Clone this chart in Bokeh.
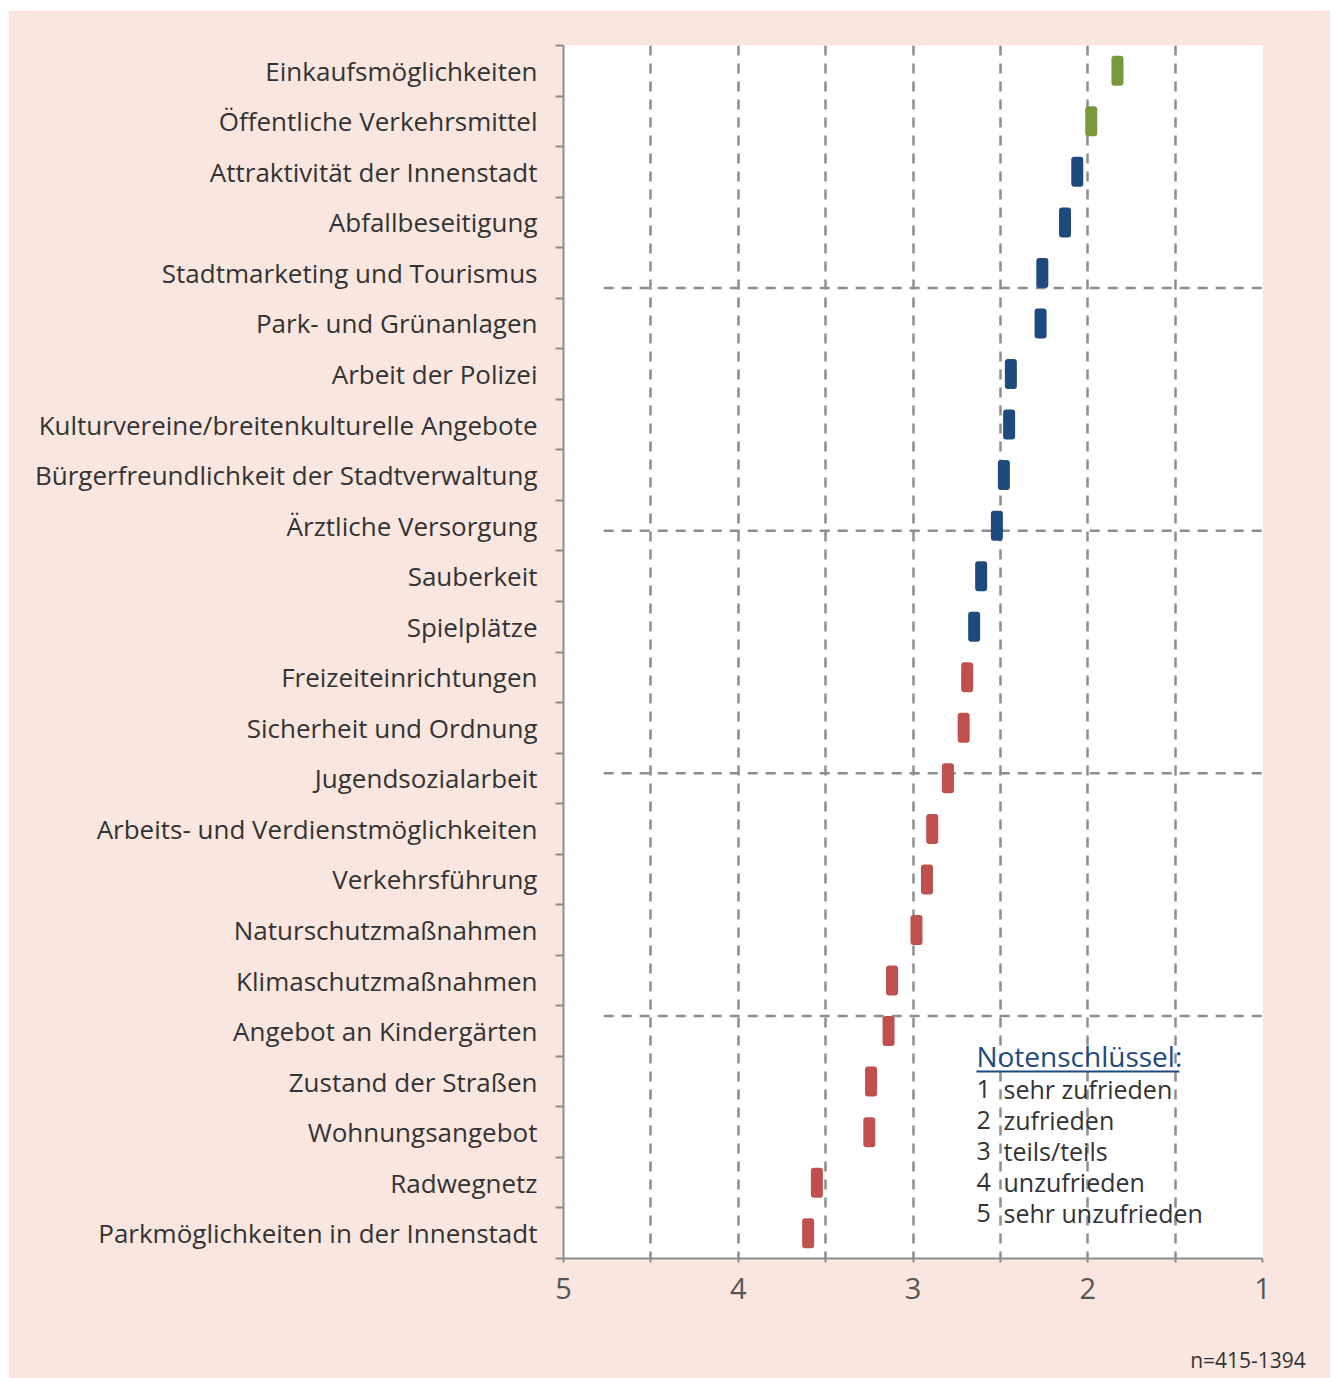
from bokeh.plotting import figure
from bokeh.models import Range1d, FixedTicker, LinearAxis
from bokeh.core.properties import value
from bokeh.embed import file_html
from bokeh.resources import INLINE

categories = [
    "Einkaufsmöglichkeiten", "Öffentliche Verkehrsmittel", "Attraktivität der Innenstadt",
    "Abfallbeseitigung", "Stadtmarketing und Tourismus", "Park- und Grünanlagen",
    "Arbeit der Polizei", "Kulturvereine/breitenkulturelle Angebote",
    "Bürgerfreundlichkeit der Stadtverwaltung", "Ärztliche Versorgung", "Sauberkeit",
    "Spielplätze", "Freizeiteinrichtungen", "Sicherheit und Ordnung", "Jugendsozialarbeit",
    "Arbeits- und Verdienstmöglichkeiten", "Verkehrsführung", "Naturschutzmaßnahmen",
    "Klimaschutzmaßnahmen", "Angebot an Kindergärten", "Zustand der Straßen",
    "Wohnungsangebot", "Radwegnetz", "Parkmöglichkeiten in der Innenstadt",
]
scores = [1.83, 1.98, 2.06, 2.13, 2.26, 2.27, 2.44, 2.45, 2.48, 2.52, 2.61, 2.65,
          2.69, 2.71, 2.80, 2.89, 2.92, 2.98, 3.12, 3.14, 3.24, 3.25, 3.55, 3.60]
groups = ["gut"] * 2 + ["mittel"] * 10 + ["schlecht"] * 12
group_colors = {"gut": "#78993B", "mittel": "#1F4A7E", "schlecht": "#C0504D"}
x_ticks = [5, 4, 3, 2, 1]
key_title = "Notenschlüssel"
key_numbers = ["1", "2", "3", "4", "5"]
key_texts = ["sehr zufrieden", "zufrieden", "teils/teils", "unzufrieden", "sehr unzufrieden"]
note = "n=415-1394"

PINK = "#F9E7DF"
GRID = "#8E8E8E"
FONT = "Open Sans"

n = len(categories)
rows = list(range(n))

p = figure(width=1322, height=1368, output_backend="svg", toolbar_location=None,
           x_range=Range1d(5, 1), y_range=Range1d(n - 0.5, -0.5),
           min_border_left=555, min_border_right=68, min_border_top=35, min_border_bottom=120)
p.margin = (10, 0, 0, 8)
p.background_fill_color = "white"
p.border_fill_color = PINK
p.outline_line_color = None

# x axis
xa = p.xaxis[0]
xa.ticker = FixedTicker(ticks=x_ticks, minor_ticks=[4.5, 3.5, 2.5, 1.5])
xa.axis_line_color = "#8C8C8C"
xa.axis_line_width = 2
xa.major_tick_line_color = "#8C8C8C"
xa.minor_tick_line_color = "#8C8C8C"
xa.major_tick_line_width = 2
xa.minor_tick_line_width = 2
xa.major_tick_in = 0
xa.major_tick_out = 4
xa.minor_tick_in = 0
xa.minor_tick_out = 4
xa.major_label_text_font = FONT
xa.major_label_text_font_size = "29px"
xa.major_label_text_color = "#555555"
xa.major_label_standoff = 15

# sample-size note: a bare second axis below, one labelled position near the right end
NOTE_AT = 1.083
note_axis = LinearAxis(ticker=FixedTicker(ticks=[NOTE_AT], minor_ticks=[]),
                       major_label_overrides={NOTE_AT: note, str(NOTE_AT): note},
                       axis_line_color=None, major_tick_line_color=None,
                       minor_tick_line_color=None, major_tick_in=0, major_tick_out=0,
                       minor_tick_in=0, minor_tick_out=0, major_label_standoff=44,
                       major_label_text_font=FONT, major_label_text_font_size="21px",
                       major_label_text_color="#333333")
p.add_layout(note_axis, "below")

# y axis
ya = p.yaxis[0]
ya.ticker = FixedTicker(ticks=rows, minor_ticks=[r - 0.5 for r in range(n + 1)])
ya.major_label_overrides = {r: c for r, c in zip(rows, categories)}
ya.axis_line_color = "#8C8C8C"
ya.axis_line_width = 2
ya.major_tick_line_color = None
ya.major_tick_in = 0
ya.major_tick_out = 0
ya.minor_tick_line_color = "#8C8C8C"
ya.minor_tick_line_width = 2
ya.minor_tick_in = 0
ya.minor_tick_out = 8
ya.major_label_text_font = FONT
ya.major_label_text_font_size = "26px"
ya.major_label_text_color = "#333333"
ya.major_label_standoff = 18

# grids
p.xgrid.ticker = FixedTicker(ticks=[4.5, 4, 3.5, 3, 2.5, 2, 1.5, 1])
p.xgrid.grid_line_color = GRID
p.xgrid.grid_line_width = 2.5
p.xgrid.grid_line_dash = "10 8"
p.ygrid.grid_line_color = None

# horizontal separators (fifths of the frame)
sep_y = [-0.5 + n * k / 5 for k in range(1, 5)]
p.segment(x0=[4.77] * 4, x1=[0.97] * 4, y0=sep_y, y1=sep_y,
          line_color=GRID, line_width=2.5, line_dash="10 8")

# markers
colors = [group_colors[g] for g in groups]
p.rect(x=scores, y=rows, width=12, height=30, width_units="screen", height_units="screen",
       fill_color=colors, line_color=None, border_radius=3)

# key
kx_num, kx_txt, k_top, k_step = 2.637, 2.482, 19.49, 0.615
p.text(x=[kx_num], y=[k_top], text=[key_title + ":"], text_font=value(FONT),
       text_font_size="28px", text_color="#1F4A7E", text_baseline="middle", text_align="left")
p.segment(x0=[kx_num], x1=[1.476], y0=[19.8], y1=[19.8], line_color="#1F4A7E", line_width=2)
ky = [k_top + k_step * (i + 1) + 0.04 for i in range(len(key_numbers))]
p.text(x=[kx_num] * 5, y=ky, text=key_numbers, text_font=value(FONT), text_font_size="25px",
       text_color="#333333", text_baseline="middle", text_align="left")
p.text(x=[kx_txt] * 5, y=ky, text=key_texts, text_font=value(FONT), text_font_size="25px",
       text_color="#333333", text_baseline="middle", text_align="left")

open("out.html", "w").write(file_html(p, INLINE))
